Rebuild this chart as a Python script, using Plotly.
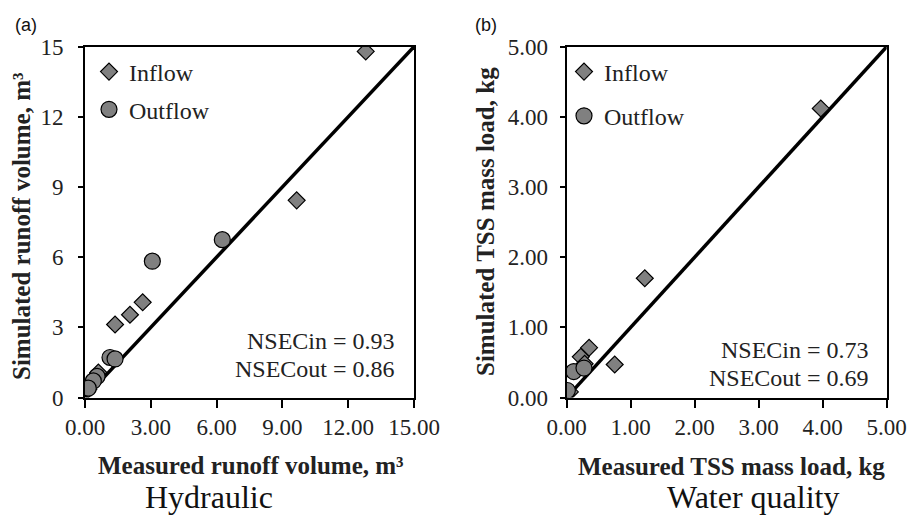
import plotly.graph_objects as go

# ---------------- data ----------------
# Panel (a) Hydraulic: measured vs simulated runoff volume (m3)
a_in_meas = [12.8, 9.65, 2.63, 2.05, 1.37, 0.61, 0.45, 0.3, 0.15]
a_in_sim = [14.8, 8.43, 4.07, 3.54, 3.12, 1.07, 0.85, 0.6, 0.35]
a_out_meas = [6.26, 3.07, 1.14, 1.37, 0.55, 0.38, 0.15]
a_out_sim = [6.75, 5.83, 1.71, 1.65, 0.9, 0.71, 0.4]

# Panel (b) Water quality: measured vs simulated TSS mass load (kg)
b_in_meas = [3.97, 1.22, 0.75, 0.35, 0.22, 0.28, 0.05]
b_in_sim = [4.12, 1.70, 0.47, 0.71, 0.58, 0.48, 0.08]
b_out_meas = [0.11, 0.01, 0.27]
b_out_sim = [0.37, 0.10, 0.42]

a_range = [0, 15]
b_range = [0, 5]
a_xticks = [0, 3, 6, 9, 12, 15]
b_ticks = [0, 1, 2, 3, 4, 5]

nse_a = ["NSECin = 0.93", "NSECout = 0.86"]
nse_b = ["NSECin = 0.73", "NSECout = 0.69"]

# ---------------- figure ----------------
W, H = 910, 517
SERIF = "Liberation Serif"
FILL = "#808080"

def px(x):
    return x / W

def py(y):
    return 1 - y / H

fig = go.Figure()

diamond = dict(symbol="diamond", size=13, color=FILL, line=dict(color="black", width=1.2))
circle = dict(symbol="circle", size=16, color=FILL, line=dict(color="black", width=1.2))

# 1:1 lines
fig.add_trace(go.Scatter(x=a_range, y=a_range, mode="lines", line=dict(color="black", width=3.5),
                         showlegend=False, xaxis="x", yaxis="y", hoverinfo="skip"))
fig.add_trace(go.Scatter(x=b_range, y=b_range, mode="lines", line=dict(color="black", width=3.5),
                         showlegend=False, xaxis="x2", yaxis="y2", hoverinfo="skip"))

# panel a
fig.add_trace(go.Scatter(x=a_in_meas, y=a_in_sim, mode="markers", marker=diamond, name="Inflow",
                         legend="legend", legendgroup="ain", xaxis="x", yaxis="y"))
fig.add_trace(go.Scatter(x=a_out_meas, y=a_out_sim, mode="markers", marker=circle, name="Outflow",
                         legend="legend", legendgroup="aout", xaxis="x", yaxis="y"))
# panel b
fig.add_trace(go.Scatter(x=b_in_meas, y=b_in_sim, mode="markers", marker=diamond, name="Inflow",
                         legend="legend2", legendgroup="bin", xaxis="x2", yaxis="y2"))
fig.add_trace(go.Scatter(x=b_out_meas, y=b_out_sim, mode="markers", marker=circle, name="Outflow",
                         legend="legend2", legendgroup="bout", xaxis="x2", yaxis="y2"))

axis_common = dict(showline=True, linecolor="black", linewidth=2, mirror=True, ticks="outside",
                   tickcolor="black", tickwidth=2, showgrid=False, zeroline=False,
                   tickfont=dict(family=SERIF, size=23, color="#222"))

ydom = [py(397.5), py(46.7)]
fig.update_layout(
    width=W, height=H,
    margin=dict(l=0, r=0, t=0, b=0, autoexpand=False),
    paper_bgcolor="white", plot_bgcolor="white",
    xaxis=dict(domain=[px(85), px(414)], range=a_range, tickvals=a_xticks, tickformat=".2f",
               ticklen=8, ticklabelstandoff=0, anchor="y", **axis_common),
    yaxis=dict(domain=ydom, range=a_range, tickvals=a_xticks, tickformat="d",
               ticklen=5, ticklabelstandoff=10, anchor="x", **axis_common),
    xaxis2=dict(domain=[px(566.7), px(886.7)], range=b_range, tickvals=b_ticks, tickformat=".2f",
                ticklen=8, ticklabelstandoff=0, anchor="y2", **axis_common),
    yaxis2=dict(domain=ydom, range=b_range, tickvals=b_ticks, tickformat=".2f",
                ticklen=5, ticklabelstandoff=7, anchor="x2", **axis_common),
    legend=dict(x=px(89), y=py(49.5), xanchor="left", yanchor="top", bgcolor="rgba(0,0,0,0)",
                font=dict(family=SERIF, size=24, color="#222"), tracegroupgap=3.5,
                itemwidth=30),
    legend2=dict(x=px(564), y=py(49.5), xanchor="left", yanchor="top", bgcolor="rgba(0,0,0,0)",
                 font=dict(family=SERIF, size=24, color="#222"), tracegroupgap=10,
                 itemwidth=30),
)

ann = []

def add(text, x, y, size, family=SERIF, angle=0, xanchor="center", color="#222"):
    ann.append(dict(text=text, x=px(x), y=py(y), xref="paper", yref="paper", xanchor=xanchor,
                    yanchor="middle", showarrow=False, textangle=angle,
                    font=dict(family=family, size=size, color=color)))

# axis titles
add("<b>Measured runoff volume, m³</b>", 251, 465, 25)
add("<b>Measured TSS mass load, kg</b>", 731, 466, 25)
add("<b>Simulated runoff volume, m³</b>", 21, 226, 25, angle=-90)
add("<b>Simulated TSS mass load, kg</b>", 485, 222, 25, angle=-90)
# panel captions
add("Hydraulic", 209, 497, 32, color="#111")
add("Water quality", 753, 497, 32, color="#111")
add("(a)", 26, 25, 18, family="Liberation Sans", color="#111")
add("(b)", 486, 25, 18, family="Liberation Sans", color="#111")
# NSE text
for t, yy in zip(nse_a, [341, 369]):
    add(t, 397, yy, 24, xanchor="right")
for t, yy in zip(nse_b, [350, 378]):
    add(t, 871, yy, 24, xanchor="right")
fig.update_layout(annotations=ann)

fig.write_html("out.html")
